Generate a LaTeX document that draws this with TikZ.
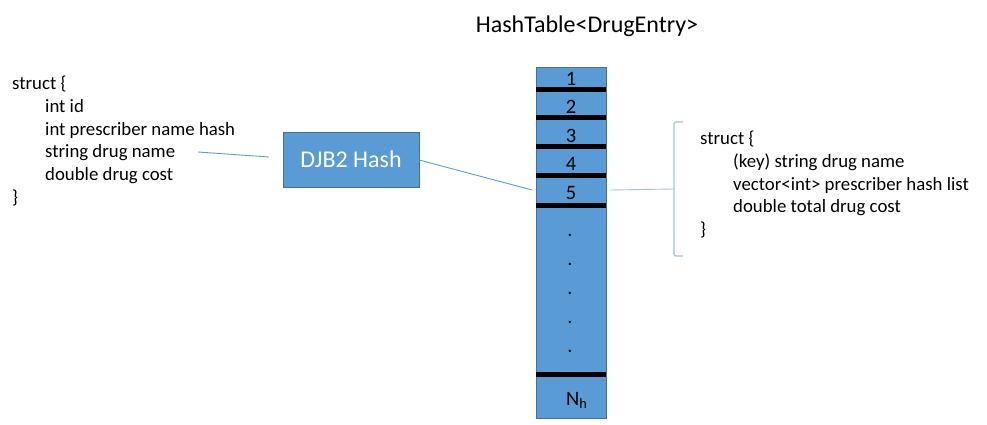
\documentclass[tikz,border=0pt]{standalone}
\usepackage{fontspec}
\setmainfont{Carlito}
\usetikzlibrary{positioning}
\definecolor{cellBlue}{HTML}{5B9BD5}
\definecolor{edgeBlue}{HTML}{41719C}
\definecolor{braceBlue}{HTML}{9DC3E6}
\tikzstyle{txtNode} = [anchor=north west, inner sep=0pt, align=left, text=black, font=\fontsize{18.8}{22.7}\selectfont]
\tikzstyle{titleNode} = [anchor=base, inner sep=0pt, text=black, font=\fontsize{24}{29}\selectfont]
\tikzstyle{numNode} = [inner sep=0pt, text=black, font=\fontsize{20.5}{25}\selectfont]
\tikzstyle{hashNode} = [rectangle, minimum width=136pt, minimum height=55pt, fill=cellBlue, draw=edgeBlue, text=white, font=\fontsize{24}{29}\selectfont]
\tikzstyle{tableNode} = [rectangle, minimum width=70pt, minimum height=351pt, inner sep=0pt, fill=cellBlue, draw=edgeBlue]
\tikzstyle{bar} = [line width=5pt, draw=black]
\tikzstyle{link} = [line width=0.9pt, draw=cellBlue]
\tikzstyle{brace} = [line width=1.2pt, draw=braceBlue, rounded corners=2pt]

\begin{document}
\begin{tikzpicture}[x=1pt, y=-1pt]
        \useasboundingbox (0,0) rectangle (987,425);
        \node (title) [titleNode] at (587,33) {HashTable<DrugEntry>};

        \node (record) [txtNode] at (12,76) {struct \{\\
            \hspace*{33pt}int id\\
            \hspace*{33pt}int prescriber name hash\\
            \hspace*{33pt}string drug name\\
            \hspace*{33pt}double drug cost\\
            \}};
        \node (hash) [hashNode] at (351,159.5) {DJB2 Hash};

        \node (table) [tableNode] at (571,242.5) {};
        \draw [bar] (table.west |- 0,90) -- (table.east |- 0,90);
        \draw [bar] (table.west |- 0,118) -- (table.east |- 0,118);
        \draw [bar] (table.west |- 0,146.5) -- (table.east |- 0,146.5);
        \draw [bar] (table.west |- 0,175.5) -- (table.east |- 0,175.5);
        \draw [bar] (table.west |- 0,205.5) -- (table.east |- 0,205.5);
        \draw [bar] (table.west |- 0,374.5) -- (table.east |- 0,374.5);
        \node (s1) [numNode] at (571,78.5) {1};
        \node (s2) [numNode] at (571,107) {2};
        \node (s3) [numNode] at (571,135.5) {3};
        \node (s4) [numNode] at (571,164) {4};
        \node (s5) [numNode] at (571,193) {5};
        \node (d1) [numNode, anchor=base] at (570,236) {.};
        \node (d2) [numNode, anchor=base] at (570,265) {.};
        \node (d3) [numNode, anchor=base] at (570,294) {.};
        \node (d4) [numNode, anchor=base] at (570,323) {.};
        \node (d5) [numNode, anchor=base] at (570,352) {.};
        \node (sN) [numNode, anchor=base west] at (566,405) {N\textsubscript{h}};

        \node (entry) [txtNode] at (700,131) {struct \{\\
            \hspace*{33pt}(key) string drug name\\
            \hspace*{33pt}vector<int> prescriber hash list\\
            \hspace*{33pt}double total drug cost\\
            \}};

        \coordinate (nameEnd) at (198,152);
        \coordinate (slotIn) at (532,190);
        \coordinate (slotOut) at (610,190);
        \coordinate (braceMid) at (674,189);

        \draw [link] (nameEnd) -- ([shift={(-14pt,2.5pt)}]hash.west);
        \draw [link] ([yshift=-0.5pt]hash.east) -- (slotIn);
        \draw [link, draw=braceBlue] (slotOut) -- (braceMid);
        \draw [brace] (683,122) -- (674,122) -- (braceMid) -- (674,256) -- (683,256);
    \end{tikzpicture}
\end{document}
